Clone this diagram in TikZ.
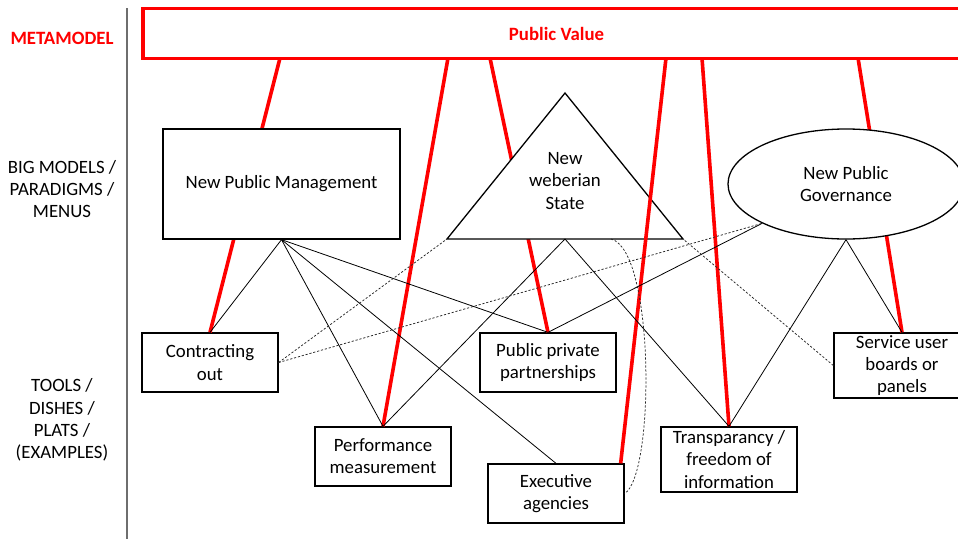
\documentclass[tikz,border=0pt]{standalone}
\usepackage{fontspec}
\setmainfont{Carlito}
\usetikzlibrary{shapes.geometric}
\definecolor{pvred}{RGB}{255,0,0}
\definecolor{divgray}{RGB}{110,110,110}
\begin{document}
\begin{tikzpicture}[x=1pt,y=-1pt,
  txt/.style={font=\fontsize{18.8}{22.2}\selectfont, align=center},
  box/.style={draw, line width=1.3pt, fill=white, minimum width=136pt, inner sep=0pt, txt},
  redline/.style={draw=pvred, line width=3.6pt},
  thinline/.style={draw=black, line width=0.8pt},
  dashline/.style={draw=black!85, line width=0.75pt, dash pattern=on 2.2pt off 1.8pt},
]
\useasboundingbox (0,0) rectangle (958,538);
\clip (0,0) rectangle (958,538);

% divider
\draw[divgray, line width=1.3pt] (127,8) -- (127,540);

% left labels
\node[txt, text=pvred, font=\fontsize{18.8}{22.2}\selectfont\bfseries] (lmeta) at (62,38) {METAMODEL};
\node[txt] (lbig) at (62,189) {BIG MODELS /\\PARADIGMS /\\MENUS};
\node[txt] (ltools) at (62,420) {TOOLS /\\DISHES /\\PLATS /\\(EXAMPLES)};

% metamodel box
\node[draw=pvred, line width=3.4pt, fill=white, minimum width=827pt, minimum height=50pt, inner sep=0pt,
      text=pvred, font=\fontsize{18.8}{22.2}\selectfont\bfseries] (pv) at (556.5,33.5) {Public Value};
\coordinate (pv1) at (280,58);
\coordinate (pv2) at (448,58);
\coordinate (pv3) at (490,58);
\coordinate (pv4) at (666,58);
\coordinate (pv5) at (702,58);
\coordinate (pv6) at (858,58);

% tool boxes
\node[box, minimum height=59pt] (co) at (210,362.5) {Contracting\\out};
\node[box, minimum height=59pt] (pm) at (383,456.5) {Performance\\measurement};
\node[box, minimum height=59pt] (ppp) at (548,362.5) {Public private\\partnerships};
\node[box, minimum height=59pt] (ea) at (556,493.5) {Executive\\agencies};
\node[box, minimum height=65pt] (tr) at (729,459.5) {Transparancy /\\freedom of\\information};
\node[box, minimum height=65pt] (sub) at (902,365.5) {Service user\\boards or\\panels};

% red lines hidden behind big models
\path[redline] (pv1) -- (co.north);
\path[redline] (pv3) -- (ppp.north);
\path[redline] (pv6) -- (sub.north);

% big models
\node[box, minimum width=237pt, minimum height=110pt] (npm) at (281.5,184) {New Public Management};
\coordinate (wbL) at (447,239);
\coordinate (wbT) at (565,93);
\coordinate (wbR) at (683,239);
\coordinate (wbB) at (565,239);
\coordinate (wbC) at (611,239);
\filldraw[fill=white, draw=black, line width=1.3pt] (wbL) -- (wbT) -- (wbR) -- cycle;
\node[txt, inner sep=0pt] (wb) at (565,181) {New\\weberian\\State};
\node[draw, ellipse, line width=1.3pt, fill=white, minimum width=236pt, minimum height=110pt, inner sep=0pt, txt] (npg) at (846,184) {New Public\\Governance};

% red lines in front
\path[redline] (pv2) -- (pm.north);
\path[redline] (pv4) -- ([xshift=-4pt]ea.north east);
\path[redline] (pv5) -- (tr.north);

% thin black connectors
\path[thinline] (npm.south) -- (co.north);
\path[thinline] (npm.south) -- (pm.north);
\path[thinline] (npm.south) -- (ea.north);
\path[thinline] (npm.south) -- (ppp.north);
\path[thinline] (wbB) -- (pm.north);
\path[thinline] (wbB) -- (tr.north);
\path[thinline] (npg.south west) -- (ppp.north);
\path[thinline] (npg.south) -- (tr.north);
\path[thinline] (npg.south) -- (sub.north);

% dashed connectors
\path[dashline] (co.east) -- (wbL);
\path[dashline] (co.east) -- (npg.south west);
\path[dashline] (sub.west) -- (wbR);
\path[dashline] (wbC) .. controls (655,250) and (655,475) .. (ea.east);
\end{tikzpicture}
\end{document}
